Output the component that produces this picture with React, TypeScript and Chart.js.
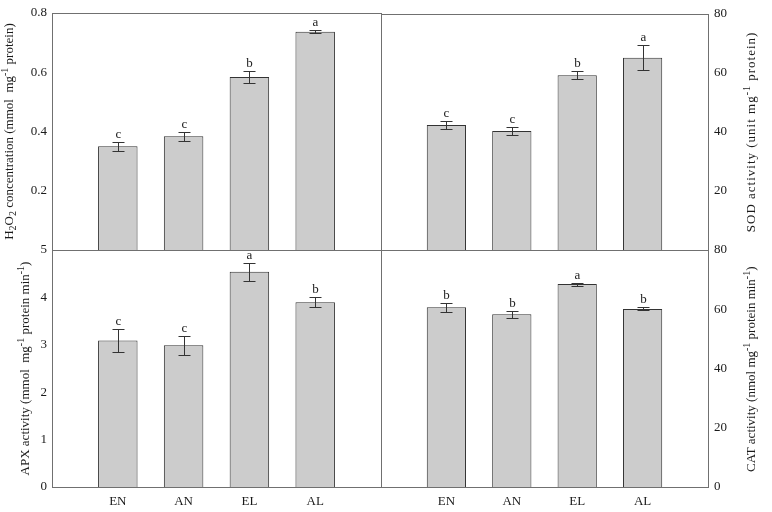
import React, { useEffect, useRef } from 'react';
import { Chart, registerables } from 'chart.js';

Chart.register(...registerables);

const categories = ['EN', 'AN', 'EL', 'AL'];
const categoryPositions = [1, 2, 3, 4];

const h2o2Values = [0.35, 0.384, 0.584, 0.737];
const h2o2Errors = [0.016, 0.015, 0.02, 0.006];
const h2o2Letters = ['c', 'c', 'b', 'a'];

const sodValues = [42.3, 40.3, 59.2, 65.1];
const sodErrors = [1.4, 1.5, 1.3, 4.3];
const sodLetters = ['c', 'c', 'b', 'a'];

const apxValues = [3.09, 2.99, 4.54, 3.9];
const apxErrors = [0.24, 0.2, 0.19, 0.11];
const apxLetters = ['c', 'c', 'a', 'b'];

const catValues = [60.7, 58.3, 68.5, 60.1];
const catErrors = [1.5, 1.2, 0.5, 0.5];
const catLetters = ['b', 'b', 'a', 'b'];

const h2o2Axis = { min: 0, max: 0.8, step: 0.2, decimals: 1 };
const sodAxis = { min: 0, max: 80, step: 20, decimals: 0 };
const apxAxis = { min: 0, max: 5, step: 1, decimals: 0 };
const catAxis = { min: 0, max: 80, step: 20, decimals: 0 };

type Seg = [string, 'n' | 'sub' | 'sup'];

const h2o2Title: Seg[] = [
  ['H', 'n'], ['2', 'sub'], ['O', 'n'], ['2', 'sub'],
  [' concentration (mmol  mg', 'n'], ['-1', 'sup'], [' protein)', 'n'],
];
const sodTitle: Seg[] = [
  ['SOD activity (unit mg', 'n'], ['-1', 'sup'], [' protein)', 'n'],
];
const apxTitle: Seg[] = [
  ['APX activity (mmol  mg', 'n'], ['-1', 'sup'], [' protein min', 'n'], ['-1', 'sup'], [')', 'n'],
];
const catTitle: Seg[] = [
  ['CAT activity (nmol mg', 'n'], ['-1', 'sup'], [' protein min', 'n'], ['-1', 'sup'], [')', 'n'],
];

const FONT = "'Liberation Serif', 'Times New Roman', serif";
const TEXT = '#1a1a1a';

interface Panel {
  values: number[];
  errors: number[];
  letters: string[];
  axis: { min: number; max: number; step: number; decimals: number };
  hideZero: boolean;
  side: 'left' | 'right';
  row: 'top' | 'bottom';
  title: Seg[];
  titleX: number;
  tracking: number;
}

const panels: Panel[] = [
  { values: h2o2Values, errors: h2o2Errors, letters: h2o2Letters, axis: h2o2Axis, hideZero: true, side: 'left', row: 'top', title: h2o2Title, titleX: 10, tracking: 0 },
  { values: sodValues, errors: sodErrors, letters: sodLetters, axis: sodAxis, hideZero: true, side: 'right', row: 'top', title: sodTitle, titleX: 752, tracking: 1 },
  { values: apxValues, errors: apxErrors, letters: apxLetters, axis: apxAxis, hideZero: false, side: 'left', row: 'bottom', title: apxTitle, titleX: 26, tracking: 0 },
  { values: catValues, errors: catErrors, letters: catLetters, axis: catAxis, hideZero: false, side: 'right', row: 'bottom', title: catTitle, titleX: 752, tracking: 0 },
];

function makePlugin(p: Panel) {
  return {
    id: 'panelDecor',
    afterDatasetsDraw(chart: any) {
      const ctx = chart.ctx as CanvasRenderingContext2D;
      const { left, right, top, bottom } = chart.chartArea;
      const xs = chart.scales.x;
      const ys = chart.scales.y;
      ctx.save();
      ctx.strokeStyle = '#333';
      ctx.lineWidth = 1;
      ctx.fillStyle = TEXT;
      ctx.font = `13px ${FONT}`;
      ctx.textAlign = 'center';
      ctx.textBaseline = 'alphabetic';
      p.values.forEach((v, i) => {
        const x = Math.round(xs.getPixelForValue(categoryPositions[i])) + 0.5;
        const yT = Math.round(ys.getPixelForValue(v + p.errors[i])) + 0.5;
        const yB = Math.round(ys.getPixelForValue(v - p.errors[i])) + 0.5;
        ctx.beginPath();
        ctx.moveTo(x, yT); ctx.lineTo(x, yB);
        ctx.moveTo(x - 6, yT); ctx.lineTo(x + 6, yT);
        ctx.moveTo(x - 6, yB); ctx.lineTo(x + 6, yB);
        ctx.stroke();
        ctx.fillText(p.letters[i], x, yT - 5);
      });
      ctx.strokeStyle = '#707070';
      ctx.strokeRect(Math.round(left) + 0.5, Math.round(top) + 0.5, Math.round(right - left), Math.round(bottom - top));
      // axis title (rotated, reading bottom to top, with sub/superscripts)
      const cy = (top + bottom) / 2;
      ctx.translate(p.titleX, cy);
      ctx.rotate(-Math.PI / 2);
      const fontFor = (k: string) => (k === 'n' ? `13px ${FONT}` : `10px ${FONT}`);
      const tr = p.tracking;
      let total = 0;
      p.title.forEach(([t, k]) => {
        ctx.font = fontFor(k);
        for (const ch of t) total += ctx.measureText(ch).width + tr;
      });
      let cx = -total / 2;
      ctx.textAlign = 'left';
      ctx.textBaseline = 'middle';
      p.title.forEach(([t, k]) => {
        ctx.font = fontFor(k);
        const dy = k === 'sub' ? 3 : k === 'sup' ? -5 : 0;
        if (tr === 0) {
          ctx.fillText(t, cx, dy);
          cx += ctx.measureText(t).width;
        } else {
          for (const ch of t) {
            ctx.fillText(ch, cx, dy);
            cx += ctx.measureText(ch).width + tr;
          }
        }
      });
      ctx.restore();
    },
  };
}

function PanelChart({ p }: { p: Panel }) {
  const ref = useRef<HTMLCanvasElement>(null);
  useEffect(() => {
    let chart: Chart | null = null;
    let cancelled = false;
    const build = () => {
      if (cancelled || !ref.current) return;
      const isLeft = p.side === 'left';
      const isTop = p.row === 'top';
      chart = new Chart(ref.current, {
        type: 'bar',
        data: {
          datasets: [{
            data: categoryPositions.map((x, i) => ({ x, y: p.values[i] })),
            backgroundColor: '#cccccc',
            borderColor: '#333333',
            borderWidth: 1,
            barPercentage: 0.6,
            categoryPercentage: 1,
          }],
        },
        options: {
          responsive: false,
          animation: false,
          layout: {
            padding: {
              left: isLeft ? 0 : 381,
              right: isLeft ? 391 : 0,
              top: isTop ? 13 : 250,
              bottom: isTop ? 262 : 0,
            },
          },
          plugins: { legend: { display: false }, tooltip: { enabled: false } },
          scales: {
            x: {
              type: 'linear',
              min: 0,
              max: 5,
              offset: false,
              display: !isTop,
              grid: { display: false, drawTicks: false },
              border: { display: false },
              ticks: {
                stepSize: 1,
                padding: 7,
                color: TEXT,
                font: { family: FONT, size: 13 },
                maxRotation: 0,
                autoSkip: false,
                callback: (v: any) => {
                  const idx = categoryPositions.indexOf(Number(v));
                  return idx >= 0 ? categories[idx] : '';
                },
              },
              afterFit: (s: any) => { s.height = isTop ? 0 : 25; },
            },
            y: {
              position: p.side,
              min: p.axis.min,
              max: p.axis.max,
              grid: { display: false, drawTicks: false },
              border: { display: false },
              ticks: {
                stepSize: p.axis.step,
                padding: isLeft ? 5 : 6,
                color: TEXT,
                font: { family: FONT, size: 13 },
                callback: (v: any) => {
                  const n = Number(v);
                  if (p.hideZero && Math.abs(n) < 1e-9) return '';
                  return n.toFixed(p.axis.decimals);
                },
              },
              afterFit: (s: any) => { s.width = isLeft ? 52 : 64; },
            },
          },
        } as any,
        plugins: [makePlugin(p)],
      });
    };
    const fonts: any = (document as any).fonts;
    if (fonts && fonts.load) {
      Promise.all([
        fonts.load(`13px "Liberation Serif"`),
        fonts.load(`10px "Liberation Serif"`),
      ]).then(build, build);
    } else {
      build();
    }
    return () => {
      cancelled = true;
      if (chart) chart.destroy();
    };
  }, [p]);
  return (
    <canvas
      ref={ref}
      width={772}
      height={512}
      style={{ position: 'absolute', left: 0, top: 0, width: 772, height: 512 }}
    />
  );
}

export default function App() {
  useEffect(() => {
    document.body.style.margin = '0';
  }, []);
  return (
    <div style={{ position: 'absolute', left: 0, top: 0, width: 772, height: 512, background: '#fff' }}>
      {panels.map((p, i) => (
        <PanelChart key={i} p={p} />
      ))}
    </div>
  );
}
